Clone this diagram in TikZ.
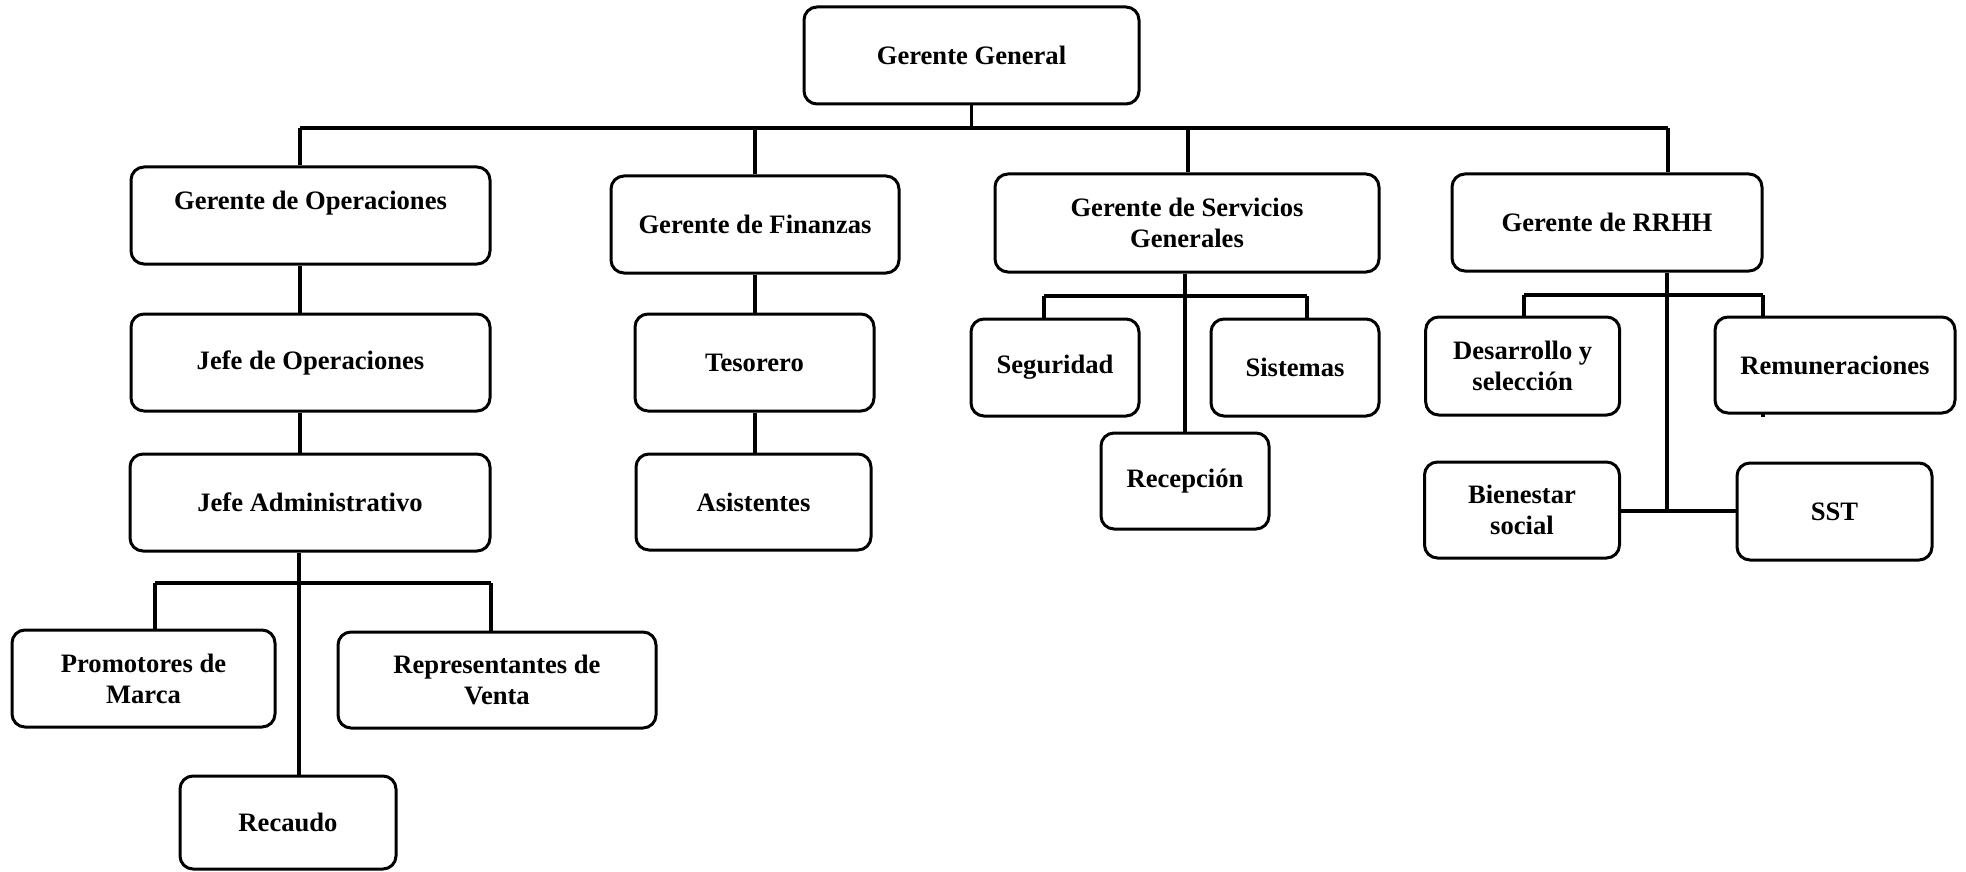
\documentclass[tikz,border=0pt]{standalone}
\usepackage{fontspec}
\setmainfont{Liberation Serif}
\usetikzlibrary{backgrounds}
\begin{document}
\begin{tikzpicture}[x=0.5pt,y=-0.5pt,
  box/.style={draw, line width=1.5pt, rounded corners=6.5pt, fill=white, inner sep=0pt,
    align=center, font=\fontsize{13.3pt}{15.5pt}\selectfont\bfseries},
  sz/.style 2 args={minimum width=#1pt, minimum height=#2pt},
  conn/.style={line width=1.6pt},
  bus/.style={line width=2pt}]
\useasboundingbox (0,0) rectangle (1966,872);
% nodes
\node[box, sz={167.5}{48.5}] (gg) at (971.5,55.5) {Gerente General};
\node[box, sz={179.5}{48.5}] (go) at (310.5,215.5) {Gerente de Operaciones\\ ~};
\node[box, sz={144}{48.5}] (gf) at (755,224.5) {Gerente de Finanzas};
\node[box, sz={192}{49}] (sg) at (1187,223) {Gerente de Servicios\\Generales};
\node[box, sz={155}{48.5}] (rh) at (1607,222.5) {Gerente de RRHH};
\node[box, sz={179.5}{48.5}] (jo) at (310.5,362.5) {Jefe de Operaciones};
\node[box, sz={119.5}{48.5}] (te) at (754.5,362.5) {Tesorero};
\node[box, sz={84}{48.5}] (se) at (1055,367.5) {Seguridad};
\node[box, sz={84}{48.5}] (si) at (1295,367.5) {Sistemas};
\node[box, sz={84}{48}] (re) at (1185,481) {Recepción};
\node[box, sz={97}{49}] (de) at (1522.7,366) {Desarrollo y\\selección};
\node[box, sz={120}{48}] (rm) at (1835,365) {Remuneraciones};
\node[box, sz={97.5}{48}] (bi) at (1522,510) {Bienestar\\social};
\node[box, sz={97.5}{48.5}] (ss) at (1834.5,511.5) {SST};
\node[box, sz={180}{48.5}] (ja) at (310,502.5) {Jefe Administrativo};
\node[box, sz={117.5}{48}] (as) at (753.5,502) {Asistentes};
\node[box, sz={131.5}{48.5}] (pm) at (143.5,678.5) {Promotores de\\Marca};
\node[box, sz={159}{48}] (rv) at (497,680) {Representantes de\\Venta};
\node[box, sz={108}{46.5}] (rc) at (288,822.5) {Recaudo};
% junction coordinates
\coordinate (b0) at (971.5,128);
\coordinate (b1) at (300,128);
\coordinate (b2) at (755,128);
\coordinate (b3) at (1188,128);
\coordinate (b4) at (1668,128);
\coordinate (s1) at (1044,296);
\coordinate (s2) at (1307,296);
\coordinate (r1) at (1524,295);
\coordinate (r2) at (1763,295);
\coordinate (r3) at (1763,417);
\coordinate (r4) at (1667,511);
\coordinate (a1) at (155,583);
\coordinate (a2) at (491,583);
\begin{pgfonlayer}{background}
\draw[conn] (gg.south) -- (b0);
\draw[bus] (b1) -- (b4);
\draw[conn] (b1) -- (b1 |- go.north);
\draw[conn] (b2) -- (b2 |- gf.north);
\draw[conn] (b3) -- (b3 |- sg.north);
\draw[conn] (b4) -- (b4 |- rh.north);
% operaciones column
\draw[conn] (b1 |- go.south) -- (b1 |- jo.north);
\draw[conn] (b1 |- jo.south) -- (b1 |- ja.north);
\draw[conn] ([xshift=-0.5pt]b1 |- ja.south) -- ([xshift=-0.5pt]b1 |- rc.north);
\draw[bus] (a1) -- (a2);
\draw[conn] (a1) -- (a1 |- pm.north);
\draw[conn] (a2) -- (a2 |- rv.north);
% finanzas column
\draw[conn] (b2 |- gf.south) -- (b2 |- te.north);
\draw[conn] (b2 |- te.south) -- (b2 |- as.north);
% servicios generales
\draw[conn] (re.north |- sg.south) -- (re.north);
\draw[bus] (s1) -- (s2);
\draw[conn] (s1) -- (s1 |- se.north);
\draw[conn] (s2) -- (s2 |- si.north);
% rrhh
\draw[conn] (r4 |- rh.south) -- (r4);
\draw[bus] (r1) -- (r2);
\draw[conn] (r1) -- (r1 |- de.north);
\draw[conn] (r2) -- (r3);
\draw[conn] (bi.east |- r4) -- (r4) -- (ss.west |- r4);
\end{pgfonlayer}
\end{tikzpicture}
\end{document}
